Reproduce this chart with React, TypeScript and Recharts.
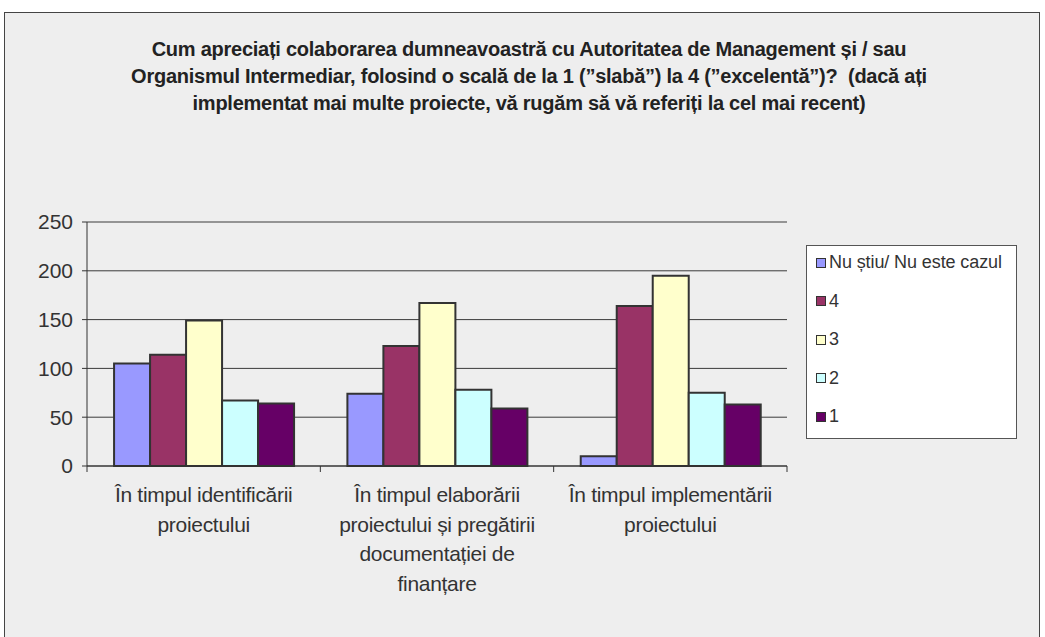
import React from "react";
import { BarChart, Bar, XAxis, YAxis, CartesianGrid } from "recharts";

// Chart text
const titleLines = [
  "Cum apreciați colaborarea dumneavoastră cu Autoritatea de Management și / sau",
  "Organismul Intermediar, folosind o scală de la 1 (”slabă”) la 4 (”excelentă”)?  (dacă ați",
  "implementat mai multe proiecte, vă rugăm să vă referiți la cel mai recent)",
];

const categoryLines: string[][] = [
  ["În timpul identificării", "proiectului"],
  ["În timpul elaborării", "proiectului și pregătirii", "documentației de", "finanțare"],
  ["În timpul implementării", "proiectului"],
];
const categories = categoryLines.map((l) => l.join(" "));

// Series values
const seriesNames = ["Nu știu/ Nu este cazul", "4", "3", "2", "1"];
const nuStiu = [105, 74, 10];
const nota4 = [114, 123, 164];
const nota3 = [149, 167, 195];
const nota2 = [67, 78, 75];
const nota1 = [64, 59, 63];
const yTicks = [0, 50, 100, 150, 200, 250];

const COLORS = ["#9999FF", "#993366", "#FFFFCC", "#CCFFFF", "#660066"];
const KEYS = ["s0", "s1", "s2", "s3", "s4"];
const seriesValues = [nuStiu, nota4, nota3, nota2, nota1];

const data = categories.map((name, i) => {
  const row: Record<string, string | number> = { name };
  KEYS.forEach((k, j) => (row[k] = seriesValues[j][i]));
  return row;
});

const FONT = '"Liberation Sans", Arial, sans-serif';
const PLOT_LEFT = 87;
const PLOT_RIGHT = 787;
const BAND = (PLOT_RIGHT - PLOT_LEFT) / categories.length;

const CategoryTick = (props: any) => {
  const { x, y, payload } = props;
  const idx = categories.indexOf(payload.value);
  const lines = categoryLines[idx] || [payload.value];
  return (
    <g>
      <line x1={x - BAND / 2} x2={x - BAND / 2} y1={y} y2={y + 6} stroke="#333" />
      {idx === categories.length - 1 && (
        <line x1={x + BAND / 2} x2={x + BAND / 2} y1={y} y2={y + 6} stroke="#333" />
      )}
      <text x={x} y={y} textAnchor="middle" fill="#333" fontSize={21} fontFamily={FONT} letterSpacing={-0.3}>
        {lines.map((l, i) => (
          <tspan key={i} x={x} dy={i === 0 ? 36 : 29.5}>
            {l}
          </tspan>
        ))}
      </text>
    </g>
  );
};

const App: React.FC = () => (
  <div style={{ position: "absolute", left: 0, top: 0, width: 1045, height: 637, background: "#fff", overflow: "hidden", fontFamily: FONT }}>
    <div style={{ position: "absolute", left: 4, top: 12, width: 1034, height: 640, border: "1px solid #444", background: "#eeeeee" }} />
    <div style={{ position: "absolute", left: 14, top: 36, width: 1030, textAlign: "center", fontWeight: "bold", fontSize: 20, lineHeight: "27px", color: "#222", letterSpacing: -0.25, whiteSpace: "pre" }}>
      {titleLines.map((t, i) => (
        <div key={i}>{t}</div>
      ))}
    </div>
    <div style={{ position: "absolute", left: 0, top: 0 }}>
      <BarChart
        width={1045}
        height={637}
        data={data}
        margin={{ top: 222, right: 1045 - PLOT_RIGHT, bottom: 51, left: 27 }}
        barCategoryGap="11.6%"
        barGap={0}
      >
        <CartesianGrid vertical={false} stroke="#3a3a3a" />
        <XAxis
          dataKey="name"
          height={120}
          tickLine={false}
          tickSize={0}
          tickMargin={0}
          axisLine={{ stroke: "#333" }}
          tick={<CategoryTick />}
          interval={0}
        />
        <YAxis
          width={60}
          domain={[0, 250]}
          ticks={yTicks}
          axisLine={{ stroke: "#333" }}
          tickLine={{ stroke: "#333" }}
          tickSize={5}
          tickMargin={9}
          tick={{ fill: "#333", fontSize: 21, fontFamily: FONT }}
        />
        {KEYS.map((k, i) => (
          <Bar key={k} dataKey={k} name={seriesNames[i]} fill={COLORS[i]} stroke="#333" strokeWidth={2} isAnimationActive={false} />
        ))}
      </BarChart>
    </div>
    <div style={{ position: "absolute", left: 806, top: 245, width: 209, height: 192, background: "#fff", border: "1px solid #555" }}>
      {seriesNames.map((n, i) => (
        <div key={n} style={{ position: "absolute", left: 9, top: 6 + i * 38.5, display: "flex", alignItems: "center", fontSize: 18, color: "#333", whiteSpace: "nowrap", letterSpacing: -0.1 }}>
          <span style={{ display: "inline-block", width: 8, height: 8, background: COLORS[i], border: "1.5px solid #333", marginRight: 3 }} />
          {n}
        </div>
      ))}
    </div>
  </div>
);

export default App;
